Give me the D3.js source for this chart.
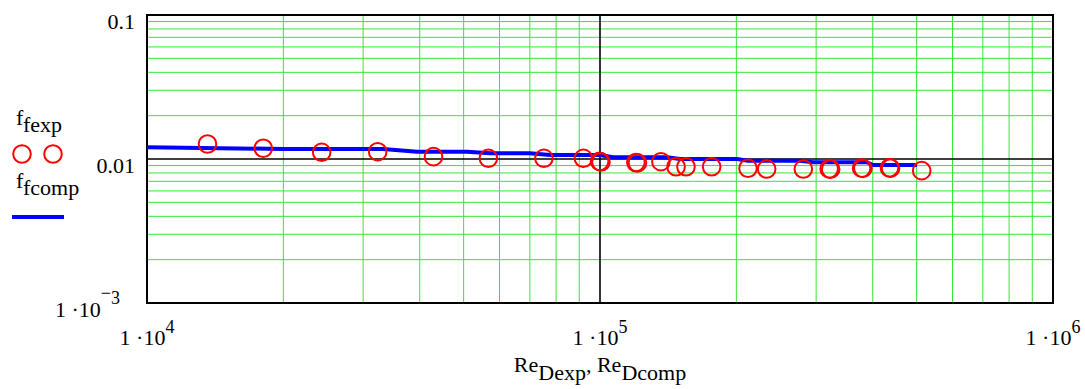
<!DOCTYPE html>
<html>
<head>
<meta charset="utf-8">
<script src="https://cdn.jsdelivr.net/npm/d3@7"></script>
<style>
  body { margin: 0; background: #fff; }
</style>
</head>
<body>
<svg id="chartSVG" width="1085" height="389" font-family="'Liberation Serif', 'Times New Roman', Times, 'DejaVu Serif', serif"></svg>
<script>
// measured points f_fexp vs Re_Dexp
var reExp = [13600, 18060, 24300, 32300, 42900, 56700, 75200, 91900, 99800, 100500,
  120000, 121000, 136300, 147200, 154800, 176400, 212200, 233300, 281100,
  320500, 323000, 378000, 380500, 435500, 438000, 513000];
var fExp = [0.01271, 0.01187, 0.01113, 0.01124, 0.01038, 0.01011, 0.01011, 0.01011, 0.00962, 0.00953,
  0.00946, 0.0094, 0.00958, 0.00884, 0.00884, 0.00884, 0.00862, 0.00852, 0.00852,
  0.00854, 0.0085, 0.00864, 0.0086, 0.00868, 0.00864, 0.0083];

// computed curve f_fcomp vs Re_Dcomp
var reComp = [10000, 20000, 33200, 39500, 50900, 57200, 70000, 77600, 100000, 106800,
  140600, 150200, 200600, 212200, 276400, 295300, 388600, 400600, 501000];
var fComp = [0.01206, 0.01174, 0.01174, 0.01124, 0.01124, 0.01095, 0.01095, 0.01066, 0.01066, 0.01027,
  0.01027, 0.01, 0.01, 0.00973, 0.00973, 0.00949, 0.00949, 0.00908, 0.00908];

var xDomain = [1e4, 1e6];
var yDomain = [1e-3, 0.1];
var xTickVals = [1e4, 1e5, 1e6];
var xTickExp = ["4", "5", "6"];
var yTickVals = [0.1, 0.01, 0.001];
var yTickText = ["0.1", "0.01", null];
var yTickExp = [null, null, "3"];

drawChart("#chartSVG");

function drawChart(elm) {
  var svg = d3.select(elm);
  var serif = "'Liberation Serif', 'Times New Roman', Times, 'DejaVu Serif', serif";
  var margin = { top: 15, right: 32, bottom: 86, left: 147 };
  var width = +svg.attr("width") - margin.left - margin.right,
    height = +svg.attr("height") - margin.top - margin.bottom;

  var x = d3.scaleLog().domain(xDomain).range([margin.left, margin.left + width]);
  var y = d3.scaleLog().domain(yDomain).range([margin.top + height, margin.top]);

  svg.append("defs").append("clipPath").attr("id", "plotClip")
    .append("rect")
    .attr("x", margin.left).attr("y", margin.top)
    .attr("width", width).attr("height", height);

  // minor grid (green), skip decades
  var isDecade = v => Math.abs(Math.log10(v) - Math.round(Math.log10(v))) < 1e-9;
  var grid = svg.append("g").attr("class", "grid");
  grid.selectAll(".gx")
    .data(x.ticks().filter(v => !isDecade(v)))
    .join("line")
    .attr("x1", d => x(d)).attr("x2", d => x(d))
    .attr("y1", margin.top).attr("y2", margin.top + height)
    .attr("stroke", "#33e833").attr("stroke-width", 1);
  grid.selectAll(".gy")
    .data(y.ticks().filter(v => !isDecade(v)))
    .join("line")
    .attr("y1", d => y(d)).attr("y2", d => y(d))
    .attr("x1", margin.left).attr("x2", margin.left + width)
    .attr("stroke", "#33e833").attr("stroke-width", 1);

  // major (decade) lines inside the frame
  grid.selectAll(".mx")
    .data(xTickVals.slice(1, -1))
    .join("line")
    .attr("x1", d => x(d)).attr("x2", d => x(d))
    .attr("y1", margin.top).attr("y2", margin.top + height)
    .attr("stroke", "#000").attr("stroke-width", 1.6);
  grid.selectAll(".my")
    .data(yTickVals.slice(1, -1))
    .join("line")
    .attr("y1", d => y(d)).attr("y2", d => y(d))
    .attr("x1", margin.left).attr("x2", margin.left + width)
    .attr("stroke", "#000").attr("stroke-width", 1.6);

  // frame
  svg.append("rect")
    .attr("x", margin.left).attr("y", margin.top)
    .attr("width", width).attr("height", height)
    .attr("fill", "none").attr("stroke", "#000").attr("stroke-width", 2);

  var plot = svg.append("g").attr("clip-path", "url(#plotClip)");

  // computed curve
  var comp = reComp.map((r, i) => [r, fComp[i]]);
  plot.append("path")
    .datum(comp)
    .attr("fill", "none")
    .attr("stroke", "#0000ff")
    .attr("stroke-width", 4)
    .attr("stroke-linejoin", "round")
    .attr("d", d3.line().x(d => x(d[0])).y(d => y(d[1])));

  // measured circles
  var meas = reExp.map((r, i) => [r, fExp[i]]);
  plot.selectAll(".pt")
    .data(meas)
    .join("circle")
    .attr("cx", d => x(d[0]))
    .attr("cy", d => y(d[1]))
    .attr("r", 8.8)
    .attr("fill", "none")
    .attr("stroke", "#ff0000")
    .attr("stroke-width", 2);

  var txt = function (px, py, anchor) {
    return svg.append("text")
      .attr("x", px).attr("y", py)
      .attr("text-anchor", anchor)
      .attr("font-family", serif)
      .attr("font-size", 22)
      .attr("fill", "#000");
  };

  // x tick labels  "1 ·10^n"
  xTickVals.forEach(function (v, i) {
    var t = txt(x(v), margin.top + height + 42, "middle");
    t.append("tspan").text("1 \u00b710");
    t.append("tspan").attr("dy", -12).attr("font-size", 18).text(xTickExp[i]);
  });

  // y tick labels
  yTickVals.forEach(function (v, i) {
    var t = txt(margin.left - (yTickExp[i] ? 27 : 12), y(v) + 13.5, "end");
    if (yTickText[i]) {
      t.text(yTickText[i]);
    } else {
      // Mathcad style: raised minus bar, then exponent
      t.append("tspan").text("1 \u00b710");
      t.append("tspan").attr("dy", -18).attr("font-size", 18).text("\u2212");
      t.append("tspan").attr("dy", 5).attr("font-size", 18).text(yTickExp[i]);
    }
  });

  // x axis title
  var xt = txt(x(1e5), 372, "middle");
  xt.append("tspan").text("Re");
  xt.append("tspan").attr("dy", 8).text("Dexp");
  xt.append("tspan").attr("dy", -8).text(", Re");
  xt.append("tspan").attr("dy", 8).text("Dcomp");

  // legend on the left
  var l1 = txt(16, 125, "start");
  l1.append("tspan").text("f");
  l1.append("tspan").attr("dy", 7).text("fexp");
  svg.selectAll(".lc")
    .data([22, 53])
    .join("circle")
    .attr("cx", d => d).attr("cy", 154).attr("r", 8.8)
    .attr("fill", "none").attr("stroke", "#ff0000").attr("stroke-width", 2);
  var l2 = txt(16, 188, "start");
  l2.append("tspan").text("f");
  l2.append("tspan").attr("dy", 7).text("fcomp");
  svg.append("line")
    .attr("x1", 12).attr("x2", 64).attr("y1", 217).attr("y2", 217)
    .attr("stroke", "#0000ff").attr("stroke-width", 4);
}
</script>
</body>
</html>
